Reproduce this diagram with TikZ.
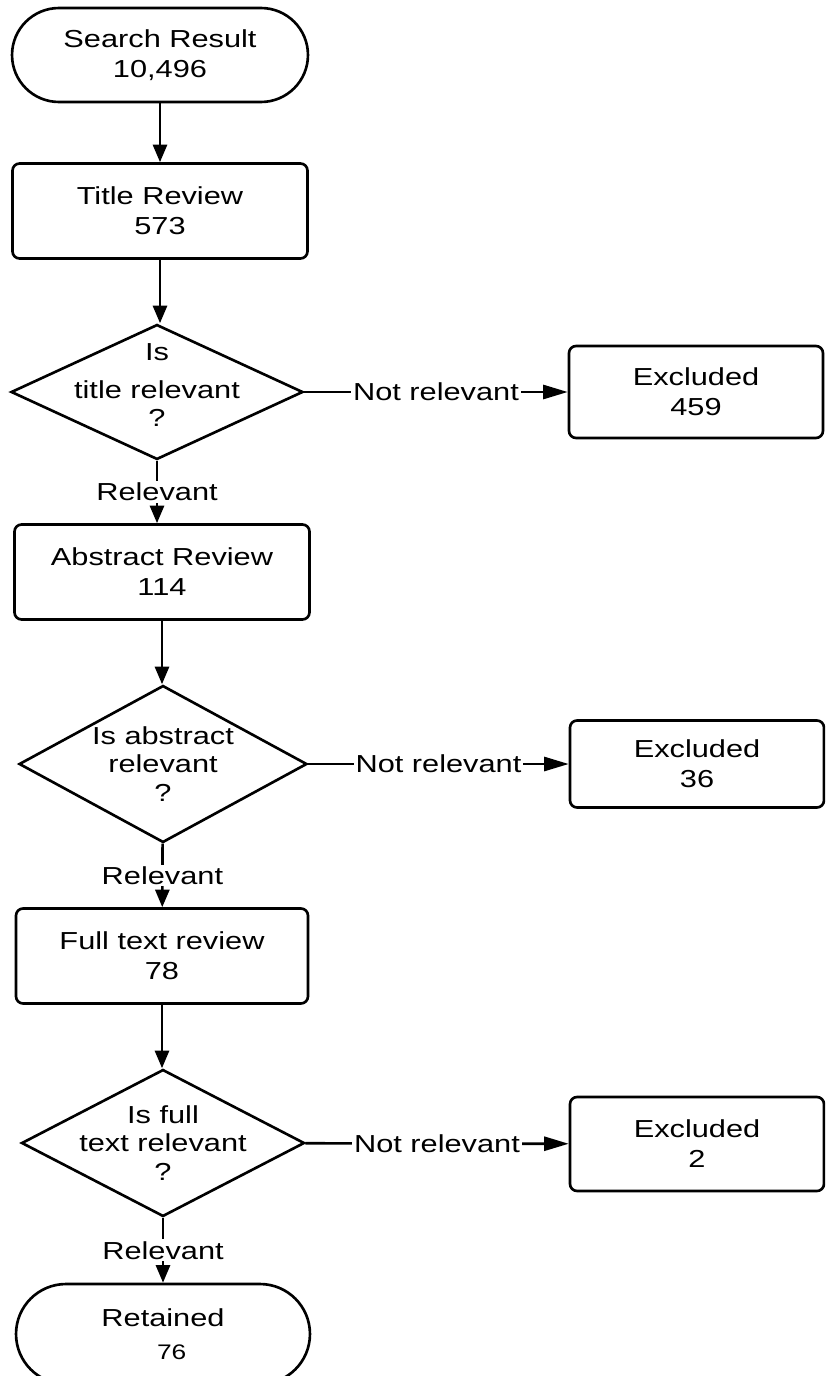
\documentclass[tikz,border=0pt]{standalone}
\usepackage{fontspec}
\setmainfont[FakeStretch=1.25]{Liberation Sans}
\usetikzlibrary{arrows.meta, shapes.geometric}

\begin{document}
\begin{tikzpicture}[
    x=0.02cm, y=-0.02cm,
    font=\fontsize{14}{17}\selectfont,
    line width=1.5pt,
    terminal/.style={draw, rounded corners=0.94cm, align=center,
        minimum width=5.92cm, minimum height=1.88cm},
    process/.style={draw, rounded corners=4pt, align=center,
        minimum width=5.9cm, minimum height=1.9cm},
    excluded/.style={process, minimum width=5.08cm, minimum height=1.84cm},
    decision/.style={draw, diamond, inner sep=0pt,
        minimum width=5.84cm, minimum height=2.7cm},
    question/.style={align=center, font=\fontsize{14}{16}\selectfont},
    arrow/.style={-{Triangle[length=10pt, width=8pt]}},
    side/.style={-{Triangle[length=14pt, width=8pt]}},
    lbl/.style={fill=white, inner sep=1pt},
]

% marco de la figura
\useasboundingbox (0,0) rectangle (825,1376);
\clip (0,0) rectangle (825,1376);

% columna principal
\node[terminal] (search) at (160,55) {Search Result\\10,496};
\node[process] (title) at (160,211) {Title Review\\573};
\node[decision] (q1) at (157,392) {};
\node[question, yshift=0.14cm] (q1t) at (q1) {Is\\[6pt]title relevant\\?};
\node[process] (abstract) at (162,572) {Abstract Review\\114};
\node[decision, minimum width=5.76cm, minimum height=3.14cm] (q2) at (163,764) {};
\node[question] (q2t) at (q2) {Is abstract\\relevant\\?};
\node[process, minimum width=5.84cm] (full) at (162,956) {Full text review\\78};
\node[decision, minimum width=5.66cm, minimum height=2.94cm] (q3) at (163,1143) {};
\node[question] (q3t) at (q3) {Is full\\text relevant\\?};
\node[terminal, minimum width=5.88cm, minimum height=2cm, rounded corners=1cm]
    (retained) at (163,1334) {Retained\\[2pt]{\fontsize{12}{14}\selectfont\hspace*{0.35cm}76}};

% excluidos
\node[excluded] (ex1) at (696,392) {Excluded\\459};
\node[excluded, minimum height=1.74cm] (ex2) at (697,764) {Excluded\\36};
\node[excluded, minimum height=1.88cm] (ex3) at (697,1144) {Excluded\\2};

% flechas
\draw[arrow] (search) -- (title);
\draw[arrow] (title.south) -- (title.south |- q1.north);
\draw[arrow] (q1.south) -- node[lbl] {Relevant} (q1.south |- abstract.north);
\draw[arrow] (abstract.south) -- (abstract.south |- q2.north);
\draw[arrow] (q2) -- node[lbl] {Relevant} (full);
\draw[arrow] (full.south) -- (full.south |- q3.north);
\draw[arrow] (q3) -- node[lbl] {Relevant} (retained);

\foreach \i in {1,2,3}{
    \draw[side] (q\i) -- node[lbl] {Not relevant} (ex\i);
}

\end{tikzpicture}
\end{document}
